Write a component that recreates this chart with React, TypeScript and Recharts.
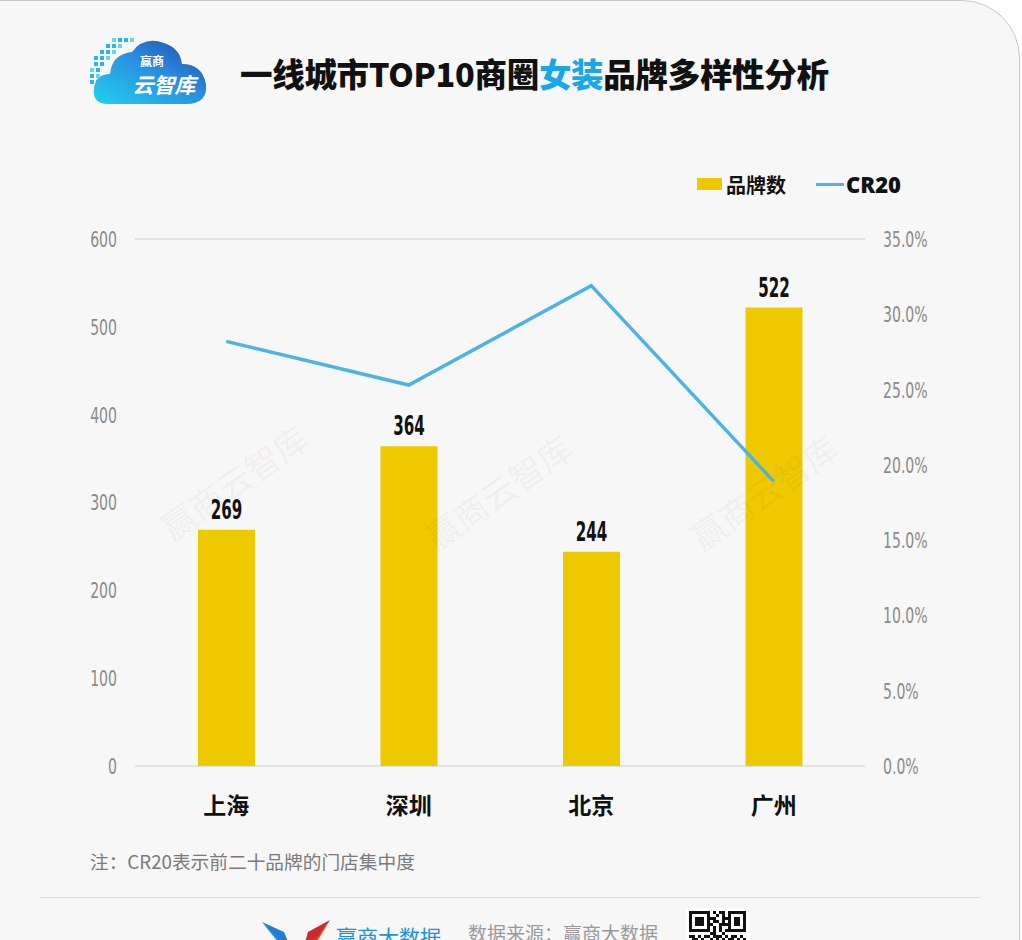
import { ComposedChart, Bar, Line, XAxis, YAxis, CartesianGrid, LabelList } from 'recharts'

const cities = ['上海', '深圳', '北京', '广州']
const brandCounts = [269, 364, 244, 522]
const cr20 = [0.282, 0.253, 0.319, 0.189]
const leftTicks = [0, 100, 200, 300, 400, 500, 600]
const rightTicks = [0, 0.05, 0.1, 0.15, 0.2, 0.25, 0.3, 0.35]

const data = cities.map((city, i) => ({ city, count: brandCounts[i], cr20: cr20[i] }))

const YELLOW = '#efc900'
const BLUE = '#4cb3e6'
const CJK = '"Noto Sans CJK SC", "Noto Sans", sans-serif'
const COND = '"DejaVu Sans", sans-serif'

// narrow digits like the original's condensed face
const LeftTick = (props: any) => {
  const { x, y, payload } = props
  return (
    <g transform={`translate(${x},${y})`}>
      <text transform='scale(0.64,1)' textAnchor='end' dy='0.36em' fontSize={22} fill='#8a8a8a' fontFamily={COND}>
        {payload.value}
      </text>
    </g>
  )
}

const RightTick = (props: any) => {
  const { x, y, payload } = props
  return (
    <g transform={`translate(${x},${y})`}>
      <text transform='scale(0.64,1)' textAnchor='start' dy='0.36em' fontSize={22} fill='#8a8a8a' fontFamily={COND}>
        {(payload.value * 100).toFixed(1) + '%'}
      </text>
    </g>
  )
}

const CityTick = (props: any) => {
  const { x, y, payload } = props
  return (
    <text x={x} y={y} dy={20} textAnchor='middle' fontSize={23} fontWeight={700} fill='#111' fontFamily={CJK}>
      {payload.value}
    </text>
  )
}

const BarLabel = (props: any) => {
  const { x, y, width, value } = props
  return (
    <g transform={`translate(${x + width / 2},${y - 11})`}>
      <text transform='scale(0.56,1)' textAnchor='middle' fontSize={27} fontWeight={700} fill='#111' fontFamily={COND}>
        {value}
      </text>
    </g>
  )
}

const Logo = () => (
  <svg width={124} height={74} style={{ position: 'absolute', left: 88, top: 34 }}>
    <defs>
      <linearGradient id='cloudGrad' x1='0' y1='1' x2='1' y2='0'>
        <stop offset='0%' stopColor='#22d0f0' />
        <stop offset='55%' stopColor='#2a8ee0' />
        <stop offset='100%' stopColor='#1c46a8' />
      </linearGradient>
    </defs>
    <path
      d='M20 70 Q4 70 6 54 Q8 40 22 40 Q24 20 44 18 Q56 2 76 9 Q92 14 94 30 Q114 30 118 50 Q120 70 98 70 Z'
      fill='url(#cloudGrad)'
    />
    {[
      [24, 4], [30, 4], [36, 4], [42, 4], [18, 10], [24, 10], [30, 10], [12, 16], [18, 16], [24, 16],
      [6, 22], [12, 22], [18, 22], [6, 28], [12, 28], [2, 34], [8, 34], [2, 40], [8, 40], [2, 46], [8, 46],
    ].map(([px, py], i) => (
      <rect key={i} x={px} y={py} width={4} height={4} fill={i % 3 === 0 ? '#5fd8f5' : '#2ab6ea'} />
    ))}
    <text x={64} y={32} fontSize={12} fontWeight={700} fill='#fff' fontFamily={CJK} textAnchor='middle'>赢商</text>
    <text x={76} y={59} fontSize={21} fontStyle='italic' fontWeight={700} fill='#fff' fontFamily={CJK} textAnchor='middle'>云智库</text>
  </svg>
)

const qrPattern = [
  '1111111010110111111',
  '1000001001010100001',
  '1011101110011101101',
  '1011101011010101101',
  '1011101100111101101',
  '1000001010100100001',
  '1111111010101111111',
  '0000000110010000000',
  '1101011011101011010',
  '0110100101010110101',
]

const Footer = () => (
  <div style={{ position: 'absolute', left: 0, top: 898, width: 1022, height: 42, overflow: 'hidden' }}>
    <svg width={70} height={40} style={{ position: 'absolute', left: 262, top: 22 }}>
      <polygon points='0,2 36,40 30,40' fill='#2aa2e4' />
      <polygon points='0,2 22,12 34,40' fill='#1c7fd0' />
      <polygon points='68,0 36,40 44,40' fill='#e8453c' />
      <polygon points='68,0 46,12 38,40' fill='#c92a2a' />
    </svg>
    <div style={{ position: 'absolute', left: 336, top: 23, fontSize: 21, color: '#1c8fe0', fontFamily: CJK }}>赢商大数据</div>
    <div style={{ position: 'absolute', left: 468, top: 21, fontSize: 19, color: '#9a9a9a', fontFamily: CJK }}>数据来源：赢商大数据</div>
    <svg width={64} height={40} style={{ position: 'absolute', left: 686, top: 10 }}>
      <rect x={0} y={0} width={64} height={40} fill='#fff' />
      {qrPattern.map((row, r) =>
        row.split('').map((c, k) => (c === '1' ? <rect key={r + '-' + k} x={3 + k * 3} y={3 + r * 3} width={3} height={3} fill='#111' /> : null))
      )}
    </svg>
  </div>
)

const Watermark = ({ left, top }: { left: number; top: number }) => (
  <div
    style={{
      position: 'absolute', left, top, fontSize: 34, color: 'rgba(0,0,0,0.05)', fontFamily: CJK,
      transform: 'rotate(-35deg)', transformOrigin: 'left top', pointerEvents: 'none', whiteSpace: 'nowrap',
    }}
  >
    赢商云智库
  </div>
)

export default function App() {
  return (
    <div style={{ position: 'absolute', left: 0, top: 0, width: 1022, height: 940, background: '#fff', overflow: 'hidden' }}>
      <div
        style={{
          position: 'absolute', left: -2, top: 0, width: 1022, height: 980, background: '#f7f7f7',
          border: '1px solid #c8c8c8', borderTopRightRadius: 58, boxSizing: 'border-box',
        }}
      />
      <Logo />
      <div style={{ position: 'absolute', left: 240, top: 49, fontSize: 32.5, fontWeight: 900, color: '#111', fontFamily: CJK, whiteSpace: 'nowrap', letterSpacing: -0.3 }}>
        一线城市TOP10商圈<span style={{ color: '#1aa7e6' }}>女装</span>品牌多样性分析
      </div>

      <div style={{ position: 'absolute', left: 697, top: 169, display: 'flex', alignItems: 'center', fontFamily: CJK, fontSize: 20, fontWeight: 700, color: '#111' }}>
        <span style={{ display: 'inline-block', width: 25, height: 12, background: YELLOW, marginRight: 4 }} />
        <span>品牌数</span>
        <span style={{ display: 'inline-block', width: 28, height: 3, background: BLUE, marginLeft: 30, marginRight: 2 }} />
        <span style={{ fontFamily: '"Open Sans", sans-serif', fontSize: 22, fontWeight: 800 }}>CR20</span>
      </div>

      <div style={{ position: 'absolute', left: 0, top: 0 }}>
        <ComposedChart width={1022} height={940} data={data} margin={{ top: 239, right: 0, bottom: 114, left: 0 }}>
          <CartesianGrid vertical={false} stroke='#dcdcdc' strokeWidth={1.5} />
          <XAxis dataKey='city' axisLine={false} tickLine={false} tickMargin={22} height={60} tick={<CityTick />} />
          <YAxis
            yAxisId='left'
            domain={[0, 600]}
            ticks={leftTicks}
            width={135}
            axisLine={false}
            tickLine={false}
            tickMargin={12}
            tick={<LeftTick />}
            interval={0}
          />
          <YAxis
            yAxisId='right'
            orientation='right'
            domain={[0, 0.35]}
            ticks={rightTicks}
            width={157}
            axisLine={false}
            tickLine={false}
            tickMargin={12}
            tick={<RightTick />}
            interval={0}
          />
          <Bar yAxisId='left' dataKey='count' fill={YELLOW} barSize={57} isAnimationActive={false}>
            <LabelList dataKey='count' content={<BarLabel />} />
          </Bar>
          <Line yAxisId='right' dataKey='cr20' stroke={BLUE} strokeWidth={3.5} dot={false} activeDot={false} isAnimationActive={false} />
        </ComposedChart>
      </div>

      <Watermark left={150} top={510} />
      <Watermark left={414} top={520} />
      <Watermark left={680} top={520} />

      <div style={{ position: 'absolute', left: 90, top: 847, fontSize: 18.7, color: '#7a7a7a', fontFamily: CJK }}>
        注：CR20表示前二十品牌的门店集中度
      </div>
      <div style={{ position: 'absolute', left: 40, top: 897, width: 940, height: 1, background: '#dedede' }} />
      <Footer />
    </div>
  )
}
